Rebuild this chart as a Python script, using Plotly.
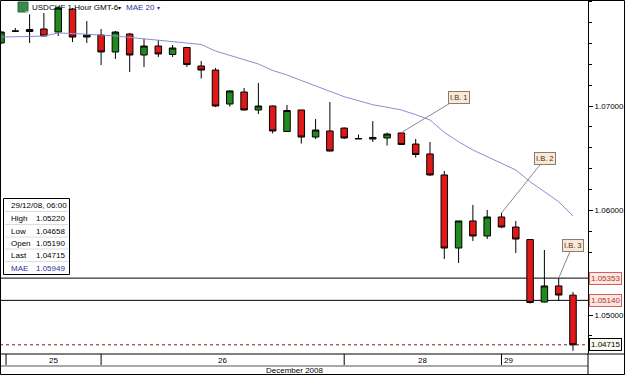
import plotly.graph_objects as go

# ---------------- data ----------------
idx = list(range(41))
opens = [1.07603, 1.07718, 1.07713, 1.07737, 1.07708, 1.07928, 1.07660, 1.07679, 1.07517, 1.07689,
         1.07488, 1.07574, 1.07493, 1.07560, 1.07383, 1.07344, 1.07019, 1.07134, 1.06962, 1.07000,
         1.06756, 1.06962, 1.06703, 1.06761, 1.06789, 1.06689, 1.06684, 1.06694, 1.06742, 1.06636,
         1.06541, 1.06340, 1.05641, 1.05900, 1.05756, 1.05938, 1.05842, 1.05722, 1.05124, 1.05278,
         1.05190]
highs = [1.07718, 1.07746, 1.07880, 1.07890, 1.07957, 1.07938, 1.07813, 1.07737, 1.07718, 1.07699,
         1.07641, 1.07632, 1.07584, 1.07565, 1.07431, 1.07364, 1.07153, 1.07172, 1.07220, 1.07005,
         1.07010, 1.06962, 1.06876, 1.07038, 1.06794, 1.06727, 1.06856, 1.06746, 1.06746, 1.06684,
         1.06656, 1.06378, 1.05900, 1.06053, 1.06005, 1.05976, 1.05900, 1.05727, 1.05622, 1.05353,
         1.05220]
lows = [1.07593, 1.07708, 1.07603, 1.07668, 1.07670, 1.07612, 1.07603, 1.07392, 1.07450, 1.07325,
        1.07373, 1.07469, 1.07469, 1.07373, 1.07263, 1.06990, 1.06995, 1.06957, 1.06923, 1.06737,
        1.06751, 1.06641, 1.06684, 1.06565, 1.06684, 1.06684, 1.06656, 1.06622, 1.06627, 1.06507,
        1.06330, 1.05536, 1.05498, 1.05708, 1.05727, 1.05833, 1.05593, 1.05110, 1.05120, 1.05140,
        1.04658]
closes = [1.07708, 1.07716, 1.07732, 1.07670, 1.07938, 1.07660, 1.07679, 1.07517, 1.07708, 1.07488,
          1.07574, 1.07498, 1.07555, 1.07397, 1.07344, 1.07000, 1.07144, 1.06962, 1.07000, 1.06761,
          1.06957, 1.06703, 1.06770, 1.06569, 1.06694, 1.06686, 1.06699, 1.06732, 1.06632, 1.06536,
          1.06340, 1.05641, 1.05900, 1.05756, 1.05938, 1.05842, 1.05727, 1.05120, 1.05278, 1.05191,
          1.04715]
mae = [1.07660, 1.07660, 1.07665, 1.07670, 1.07699, 1.07694, 1.07689, 1.07679, 1.07670, 1.07656,
       1.07641, 1.07632, 1.07617, 1.07603, 1.07589, 1.07526, 1.07483, 1.07445, 1.07402, 1.07340,
       1.07297, 1.07244, 1.07191, 1.07137, 1.07089, 1.07051, 1.07012, 1.06988, 1.06962, 1.06917,
       1.06866, 1.06748, 1.06658, 1.06579, 1.06515, 1.06452, 1.06388, 1.06276, 1.06180, 1.06084,
       1.05947]

y_ticks = [1.05, 1.06, 1.07]
levels = [1.05353, 1.05140]
last_price = 1.04715
ib_names = ["I.B. 1", "I.B. 2", "I.B. 3"]
ib_index = [28, 35, 39]
day_labels = ["25", "26", "28", "29"]
day_starts = [0.35, 7, 24, 35]
info_labels = ["High", "Low", "Open", "Last", "MAE"]
info_values = ["1.05220", "1.04658", "1.05190", "1.04715", "1.05949"]
info_date = "29/12/08, 06:00"
title_text = "USDCHF 1 Hour GMT-6"
indicator_text = "MAE 20"
month_text = "December 2008"

# ---------------- layout helpers (pixel geometry) ----------------
W, H = 625, 375
PR, PB = 588, 353            # plot area right edge / bottom edge in px
XR = [-0.07, 41.05]
YR = [1.046364, 1.080144]
FONT = "Liberation Sans, Arial, sans-serif"
RED, GREEN = "#e01818", "#208a20"

def px(x):
    return x / PR

def py(y):
    return 1 - y / PB

fig = go.Figure()
fig.add_trace(go.Candlestick(
    x=idx, open=opens, high=highs, low=lows, close=closes,
    increasing=dict(fillcolor=GREEN, line=dict(color="black", width=1)),
    decreasing=dict(fillcolor=RED, line=dict(color="black", width=1)),
    whiskerwidth=0, hoverinfo="skip", showlegend=False))
fig.add_trace(go.Scatter(x=idx, y=mae, mode="lines",
                         line=dict(color="#8c8cd2", width=1),
                         hoverinfo="skip", showlegend=False))

shapes = []
ann = []

# level lines
for lv in levels:
    shapes.append(dict(type="line", xref="paper", yref="y", x0=0, x1=1, y0=lv, y1=lv,
                       line=dict(color="black", width=1), layer="below"))
    ann.append(dict(xref="paper", yref="y", x=px(589), y=lv, xanchor="left", yanchor="middle",
                    text=f"{lv:.5f}", showarrow=False, font=dict(size=8, family=FONT, color="#b03030"),
                    bgcolor="#fce8e0", bordercolor="#d06060", borderwidth=1, borderpad=1))
shapes.append(dict(type="line", xref="paper", yref="y", x0=0, x1=1, y0=last_price, y1=last_price,
                   line=dict(color="#a01010", width=1, dash="dot"), layer="below"))
ann.append(dict(xref="paper", yref="y", x=px(589), y=last_price, xanchor="left", yanchor="middle",
                text=f"{last_price:.5f}", showarrow=False, font=dict(size=8, family=FONT, color="black"),
                bgcolor="#fafaf0", bordercolor="black", borderwidth=1, borderpad=1))

# I.B. labels
ib_offsets = [(58, -35), (44, -55), (14, -33)]
for name, i, (ax, ay) in zip(ib_names, ib_index, ib_offsets):
    ann.append(dict(xref="x", yref="y", x=idx[i], y=highs[i], text=name, showarrow=True,
                    arrowhead=0, arrowwidth=1, arrowcolor="#8a8a8a", ax=ax, ay=ay,
                    font=dict(size=7.5, family=FONT, color="#333333"),
                    bgcolor="#fbe8d4", bordercolor="#8c7c6c", borderwidth=1, borderpad=1))

# info box
shapes.append(dict(type="rect", xref="paper", yref="paper", x0=px(3.5), x1=px(69.5), y0=py(274.5), y1=py(198.5),
                   fillcolor="white", line=dict(color="black", width=1)))
for sy in [211.5, 224.5, 237, 249, 261.5]:
    shapes.append(dict(type="line", xref="paper", yref="paper", x0=px(5), x1=px(68), y0=py(sy), y1=py(sy),
                       line=dict(color="#dcdcdc", width=1)))
ann.append(dict(xref="paper", yref="paper", x=px(9), y=py(205), text=info_date, showarrow=False,
                xanchor="left", yanchor="middle", font=dict(size=8, family=FONT, color="black")))
row_y = [218, 231, 243, 255, 268]
for k, (lab, val) in enumerate(zip(info_labels, info_values)):
    col = "#3030a0" if lab == "MAE" else "black"
    ann.append(dict(xref="paper", yref="paper", x=px(9), y=py(row_y[k]), text=lab, showarrow=False,
                    xanchor="left", yanchor="middle", font=dict(size=8, family=FONT, color=col)))
    ann.append(dict(xref="paper", yref="paper", x=px(34), y=py(row_y[k]), text=val, showarrow=False,
                    xanchor="left", yanchor="middle", font=dict(size=8, family=FONT, color=col)))

# title
shapes.append(dict(type="rect", xref="paper", yref="paper", x0=px(18), x1=px(28), y0=py(12), y1=py(2),
                   fillcolor="#3a8a4a", line=dict(color="#2a6a3a", width=1)))
ann.append(dict(xref="paper", yref="paper", x=px(23), y=py(7), text="⇄", showarrow=False,
                font=dict(size=7, family="DejaVu Sans", color="white")))
ann.append(dict(xref="paper", yref="paper", x=px(29.5), y=py(7.5), text=title_text + "<span style='font-size:6px'>▾</span>",
                showarrow=False, xanchor="left", yanchor="middle", font=dict(size=8, family=FONT, color="black")))
ann.append(dict(xref="paper", yref="paper", x=px(124), y=py(7.5), text=indicator_text + " <span style='font-size:6px'>▾</span>",
                showarrow=False, xanchor="left", yanchor="middle", font=dict(size=8, family=FONT, color="#3030a0")))

# date rows
shapes.append(dict(type="line", xref="paper", yref="paper", x0=0, x1=W / PR, y0=py(354), y1=py(354),
                   line=dict(color="black", width=1)))
shapes.append(dict(type="line", xref="paper", yref="paper", x0=0, x1=1, y0=py(366), y1=py(366),
                   line=dict(color="#a8a8a8", width=2)))
shapes.append(dict(type="line", xref="paper", yref="paper", x0=1, x1=1, y0=py(353), y1=py(375),
                   line=dict(color="black", width=1)))
for d in day_starts:
    shapes.append(dict(type="line", xref="x", yref="paper", x0=d, x1=d, y0=py(354), y1=py(365),
                       line=dict(color="black", width=1)))
for k, lab in enumerate(day_labels):
    if k + 1 < len(day_starts):
        ann.append(dict(xref="x", yref="paper", x=(day_starts[k] + day_starts[k + 1]) / 2, y=py(360),
                        text=lab, showarrow=False, xanchor="center", yanchor="middle",
                        font=dict(size=8, family=FONT, color="black")))
    else:
        ann.append(dict(xref="x", yref="paper", x=day_starts[k], xshift=1, y=py(360),
                        text=lab, showarrow=False, xanchor="left", yanchor="middle",
                        font=dict(size=8, family=FONT, color="black")))
ann.append(dict(xref="paper", yref="paper", x=0.5, y=py(370.5), text=month_text, showarrow=False,
                xanchor="center", yanchor="middle", font=dict(size=8, family=FONT, color="black")))

# outer border
shapes.append(dict(type="rect", xref="paper", yref="paper", x0=px(0.5), x1=px(624.5), y0=py(374.5), y1=py(0.5),
                   line=dict(color="black", width=1), fillcolor="rgba(0,0,0,0)"))

fig.update_layout(
    width=W, height=H, margin=dict(l=0, r=W - PR, t=0, b=H - PB),
    paper_bgcolor="white", plot_bgcolor="white", showlegend=False,
    boxgap=0.35,
    xaxis=dict(range=XR, visible=False, rangeslider=dict(visible=False), fixedrange=True),
    yaxis=dict(range=YR, side="right", showgrid=False, zeroline=False,
               tickmode="array", tickvals=y_ticks, tickformat=".5f",
               ticks="outside", ticklen=4, tickcolor="black", tickwidth=1,
               minor=dict(tickmode="linear", tick0=1.0, dtick=0.002, ticks="outside",
                          ticklen=3, tickcolor="black", showgrid=False),
               showline=True, linecolor="black", linewidth=1,
               tickfont=dict(size=8, family=FONT, color="black"), fixedrange=True),
    shapes=shapes, annotations=ann,
)

fig.write_html("out.html")
